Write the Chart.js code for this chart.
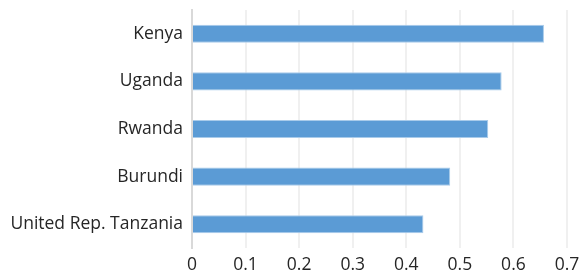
<!DOCTYPE html>
<html><head><meta charset="utf-8">
<script src="https://cdn.jsdelivr.net/npm/chart.js@4"></script>
<style>html,body{margin:0;padding:0;background:#fff}#w{width:582px;height:275px}</style>
</head><body><div id="w"><canvas id="c"></canvas></div>
<script>
const categories = ["Kenya", "Uganda", "Rwanda", "Burundi", "United Rep. Tanzania"];
const values = [0.657, 0.578, 0.553, 0.482, 0.432];
const xTicks = [0, 0.1, 0.2, 0.3, 0.4, 0.5, 0.6, 0.7];

new Chart(document.getElementById('c'), {
  type: 'bar',
  data: { labels: categories, datasets: [{ data: values, backgroundColor: '#5B9BD5', borderColor: '#A9CBEA', borderWidth: 1, barPercentage: 0.38, categoryPercentage: 1 }] },
  options: {
    indexAxis: 'y', responsive: true, maintainAspectRatio: false, animation: false,
    layout: { padding: { top: 10, right: 15, bottom: 0, left: 0 } },
    plugins: { legend: { display: false }, tooltip: { enabled: false } },
    scales: {
      x: {
        min: 0, max: 0.7,
        afterBuildTicks: s => { s.ticks = xTicks.map(v => ({ value: v })); },
        afterFit: s => { s.height = 27; s.paddingLeft = 0; s.paddingRight = 0; },
        grid: { color: '#F0F0F0', lineWidth: 2, drawTicks: false },
        border: { display: false },
        ticks: { color: '#262626', font: { family: 'Open Sans', size: 17.5 }, padding: 7, callback: v => String(v), maxRotation: 0 }
      },
      y: {
        afterFit: s => { s.width = 192; s.paddingTop = 0; s.paddingBottom = 0; },
        grid: { display: false, drawTicks: false },
        border: { color: '#D9D9D9', width: 2 },
        ticks: { color: '#262626', font: { family: 'Open Sans', size: 17.5 }, padding: 9 }
      }
    }
  }
});
</script></body></html>
